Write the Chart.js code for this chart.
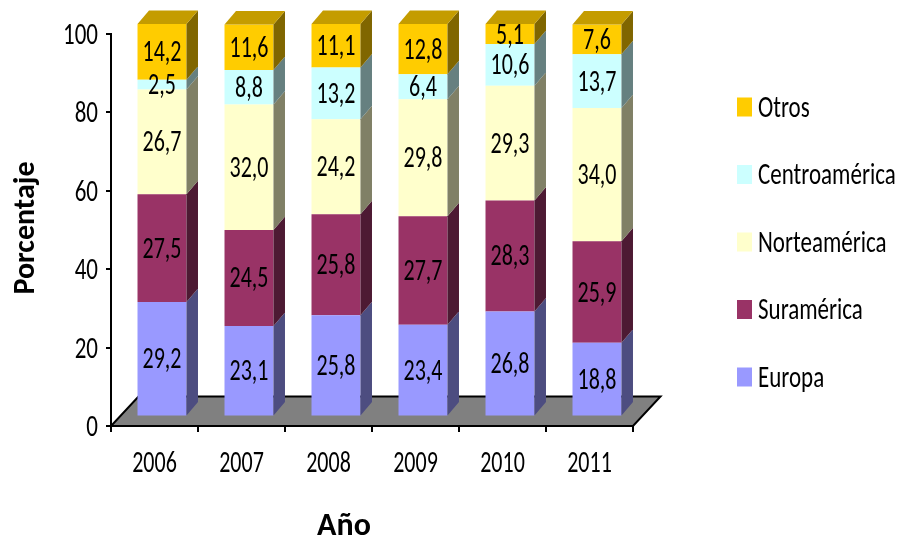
<!DOCTYPE html>
<html lang="es">
<head>
<meta charset="utf-8">
<title>Porcentaje por región y año</title>
<script src="https://cdn.jsdelivr.net/npm/chart.js@4.4.1/dist/chart.umd.min.js"></script>
<style>
  html, body { margin: 0; padding: 0; background: #fff; }
  canvas { display: block; }
</style>
</head>
<body>
<canvas id="grafica" width="903" height="537"></canvas>
<script>
// Datos (porcentaje por año)
const anios = ['2006', '2007', '2008', '2009', '2010', '2011'];
const europa = [29.2, 23.1, 25.8, 23.4, 26.8, 18.8];
const suramerica = [27.5, 24.5, 25.8, 27.7, 28.3, 25.9];
const norteamerica = [26.7, 32.0, 24.2, 29.8, 29.3, 34.0];
const centroamerica = [2.5, 8.8, 13.2, 6.4, 10.6, 13.7];
const otros = [14.2, 11.6, 11.1, 12.8, 5.1, 7.6];
const ticksY = [0, 20, 40, 60, 80, 100];

// Fuente parecida a Calibri (el original se ve estirado en vertical)
const fuente = "Carlito, Calibri, 'Liberation Sans', sans-serif";
const estiramiento = 1.35;

// Colores: cara frontal, cara lateral y tapa
const colores = {
  'Europa':        { frente: '#9999FF', lado: '#4D4D80', tapa: '#7A7ACC' },
  'Suramérica':    { frente: '#993366', lado: '#4D1A33', tapa: '#7A2952' },
  'Norteamérica':  { frente: '#FFFFCC', lado: '#808066', tapa: '#CCCCA3' },
  'Centroamérica': { frente: '#CCFFFF', lado: '#668080', tapa: '#A3CCCC' },
  'Otros':         { frente: '#FFCC00', lado: '#806600', tapa: '#C49C00' }
};

// Geometría del efecto 3D
const prof = { dx: 11.5, dy: -13.5 };   // fondo de cada barra
const desplaz = { dx: 7.5, dy: -9.5 };  // barras a media profundidad del piso
const piso = { dx: 27.5, dy: -29.5 };   // fondo del piso gris

function serie(nombre, datos) {
  return {
    label: nombre,
    data: datos,
    backgroundColor: colores[nombre].frente,
    borderWidth: 0,
    barPercentage: 0.563,
    categoryPercentage: 1,
    clip: false
  };
}

function formatoValor(v) {
  return v.toFixed(1).replace('.', ',');
}

// Texto estirado verticalmente, centrado en yc según la altura de mayúsculas
function textoAlto(ctx, txt, x, yc, size, align) {
  ctx.save();
  ctx.font = size + 'px ' + fuente;
  ctx.textAlign = align;
  ctx.textBaseline = 'alphabetic';
  ctx.fillStyle = '#000';
  ctx.translate(x, yc);
  ctx.scale(1, estiramiento);
  ctx.fillText(txt, 0, 0.32 * size);
  ctx.restore();
}

// Plugin para piso, caras laterales, tapas, etiquetas, leyenda y títulos
const plugin3D = {
  id: 'barras3d',
  beforeDatasetsDraw(chart) {
    const { ctx, chartArea } = chart;
    ctx.save();
    ctx.beginPath();
    ctx.moveTo(chartArea.left, chartArea.bottom);
    ctx.lineTo(chartArea.right, chartArea.bottom);
    ctx.lineTo(chartArea.right + piso.dx, chartArea.bottom + piso.dy);
    ctx.lineTo(chartArea.left + piso.dx, chartArea.bottom + piso.dy);
    ctx.closePath();
    ctx.fillStyle = '#808080';
    ctx.fill();
    ctx.lineWidth = 2;
    ctx.strokeStyle = '#000';
    ctx.stroke();
    ctx.restore();

    // las caras frontales se dibujan desplazadas hacia el fondo
    ctx.save();
    ctx.translate(desplaz.dx, desplaz.dy);
  },
  afterDatasetsDraw(chart) {
    const ctx = chart.ctx;
    const ultimo = chart.data.datasets.length - 1;

    chart.data.datasets.forEach((ds, i) => {
      const c = colores[ds.label];
      chart.getDatasetMeta(i).data.forEach((bar) => {
        const p = bar.getProps(['x', 'y', 'base', 'width'], true);
        const izq = p.x - p.width / 2;
        const der = p.x + p.width / 2;
        const arriba = Math.min(p.y, p.base);
        const abajo = Math.max(p.y, p.base);

        // cara lateral
        ctx.fillStyle = c.lado;
        ctx.beginPath();
        ctx.moveTo(der, arriba);
        ctx.lineTo(der + prof.dx, arriba + prof.dy);
        ctx.lineTo(der + prof.dx, abajo + prof.dy);
        ctx.lineTo(der, abajo);
        ctx.closePath();
        ctx.fill();

        // tapa sólo en el último segmento
        if (i === ultimo) {
          ctx.fillStyle = c.tapa;
          ctx.beginPath();
          ctx.moveTo(izq, arriba);
          ctx.lineTo(izq + prof.dx, arriba + prof.dy);
          ctx.lineTo(der + prof.dx, arriba + prof.dy);
          ctx.lineTo(der, arriba);
          ctx.closePath();
          ctx.fill();
        }
      });
    });

    // etiquetas de valores
    chart.data.datasets.forEach((ds, i) => {
      chart.getDatasetMeta(i).data.forEach((bar, j) => {
        const p = bar.getProps(['x', 'y', 'base'], true);
        textoAlto(ctx, formatoValor(ds.data[j]), p.x, (p.y + p.base) / 2, 22, 'center');
      });
    });
    ctx.restore();
  },
  afterDraw(chart) {
    const ctx = chart.ctx;
    const { x, y } = chart.scales;

    // etiquetas de los ejes
    ticksY.forEach((v) => {
      textoAlto(ctx, String(v), 98, y.getPixelForValue(v), 23, 'right');
    });
    anios.forEach((a, i) => {
      textoAlto(ctx, a, x.getPixelForTick(i), 462, 22, 'center');
    });

    // leyenda (orden inverso, Otros arriba)
    const nombres = chart.data.datasets.map(d => d.label).reverse();
    nombres.forEach((n, k) => {
      const yc = 107 + k * 67.5;
      ctx.fillStyle = colores[n].frente;
      ctx.fillRect(737, yc - 9.5, 15, 19);
      textoAlto(ctx, n, 758, yc, 23, 'left');
    });

    ctx.save();
    ctx.fillStyle = '#000';
    // título eje X
    ctx.font = 'bold 32px ' + fuente;
    ctx.textAlign = 'center';
    ctx.textBaseline = 'alphabetic';
    ctx.fillText('Año', 344, 535);

    // título eje Y
    ctx.translate(26, 228);
    ctx.rotate(-Math.PI / 2);
    ctx.font = 'bold 30px ' + fuente;
    ctx.textBaseline = 'middle';
    ctx.fillText('Porcentaje', 0, 0);
    ctx.restore();
  }
};

function inicializarGrafica() {
  const ctx = document.getElementById('grafica');
  new Chart(ctx, {
    type: 'bar',
    data: {
      labels: anios,
      datasets: [
        serie('Europa', europa),
        serie('Suramérica', suramerica),
        serie('Norteamérica', norteamerica),
        serie('Centroamérica', centroamerica),
        serie('Otros', otros)
      ]
    },
    options: {
      responsive: false,
      animation: false,
      layout: {
        padding: { top: 34, right: 270, bottom: 0, left: 0 }
      },
      plugins: {
        legend: { display: false },
        tooltip: { enabled: false }
      },
      scales: {
        x: {
          stacked: true,
          afterFit: (s) => { s.height = 111; },
          grid: {
            offset: true,
            drawOnChartArea: false,
            drawTicks: true,
            tickLength: 6,
            color: '#000',
            lineWidth: 2
          },
          border: { display: true, color: '#000', width: 2 },
          ticks: { display: false }
        },
        y: {
          stacked: true,
          min: 0,
          max: 100,
          afterFit: (s) => { s.width = 111; },
          afterBuildTicks: (s) => { s.ticks = ticksY.map(v => ({ value: v })); },
          grid: {
            drawOnChartArea: false,
            drawTicks: true,
            tickLength: 5,
            color: '#000',
            lineWidth: 2
          },
          border: { display: true, color: '#000', width: 2 },
          ticks: { display: false }
        }
      }
    },
    plugins: [plugin3D]
  });
}

document.addEventListener('DOMContentLoaded', inicializarGrafica);
</script>
</body>
</html>
